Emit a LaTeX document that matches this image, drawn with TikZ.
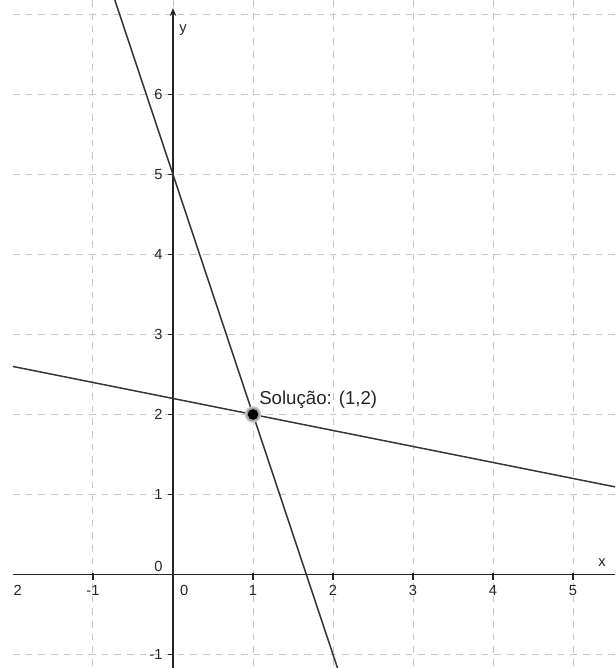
\documentclass[tikz,border=0pt]{standalone}
\usepackage{fontspec}
\setmainfont{Liberation Sans}
\usetikzlibrary{arrows.meta}

\tikzset{
  gridline/.style={gray!45, line width=0.75pt, dash pattern=on 5pt off 4.5pt},
  axisline/.style={black!85, line width=1pt},
  graphline/.style={black!80, line width=1.1pt},
  ticklabel/.style={font=\fontsize{11}{13}\selectfont, text=black!85, inner sep=0pt},
}

\begin{document}
\begin{tikzpicture}[x=60pt, y=60pt, >={Stealth[length=6pt, width=5pt]}]
  \useasboundingbox (-2.1625,-1.169) rectangle (5.525,7.181);
  \begin{scope}
    \clip (-2,-1.169) rectangle (5.525,7.181);
    % grid
    \foreach \gx in {-1,...,5}
      \draw[gridline] (\gx,-1.3) -- (\gx,7.3);
    \foreach \gy in {-1,...,7}
      \draw[gridline] (-2,\gy) -- (5.6,\gy);
    % axes and ticks
    \draw[axisline] (-2,0) -- (5.6,0);
    \draw[axisline, ->] (0,-1.3) -- (0,7.08);
    \foreach \tx in {-1,1,2,3,4,5}
      \draw[axisline] (\tx,0) +(0,1pt) -- +(0,-4pt);
    \foreach \ty in {-1,1,2,3,4,5,6}
      \draw[axisline] (0,\ty) +(1pt,0) -- +(-4pt,0);
    % the two lines
    \draw[graphline] (-0.8,7.4) -- (2.1,-1.3);
    \draw[graphline] (-2,2.6) -- (5.6,1.08);
  \end{scope}
  % tick labels
  \node[ticklabel, anchor=north] (xlm2) at (-1.94,-0.13) {2};
  \node[ticklabel, anchor=north] (xlm1) at (-1,-0.13) {-1};
  \node[ticklabel, anchor=north] (xl0) at (0.14,-0.13) {0};
  \foreach \tx in {1,...,5}
    \node[ticklabel, anchor=north] (xl\tx) at (\tx,-0.13) {\tx};
  \node[ticklabel, anchor=east] (yl0) at (-0.129,0.1) {0};
  \node[ticklabel, anchor=east] (ylm1) at (-0.129,-1) {-1};
  \foreach \ty in {1,...,6}
    \node[ticklabel, anchor=east] (yl\ty) at (-0.129,\ty) {\ty};
  \node[ticklabel] (xname) at (5.3625,0.144) {x};
  \node[ticklabel] (yname) at (0.125,6.806) {y};
  % solution point
  \coordinate (sol) at (1,2);
  \fill[gray!45] (sol) circle (6.2pt);
  \fill[gray!75] (sol) circle (5pt);
  \fill[black] (sol) circle (4pt);
  \node[anchor=base west, inner sep=0pt, font=\fontsize{14}{16}\selectfont, text=black!85] (sollabel) at (1.075,2.119) {Solução: (1,2)};
\end{tikzpicture}
\end{document}
